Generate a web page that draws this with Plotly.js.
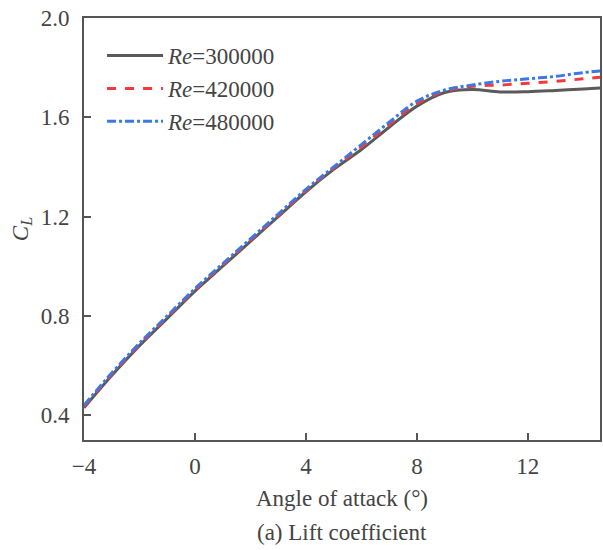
<!DOCTYPE html>
<html>
<head>
<meta charset="utf-8">
<script src="https://cdn.plot.ly/plotly-3.0.1.min.js"></script>
<style>html,body{margin:0;padding:0;background:#fff;}</style>
</head>
<body>
<div id="chart" style="width:603px;height:550px;"></div>
<script>
const alpha = [-4,-3,-2,-1,0,1,2,3,4,5,6,7,8,9,10,11,12,13,14,15];
const cl300 = [0.43,0.56,0.68,0.79,0.90,1.00,1.10,1.20,1.30,1.39,1.47,1.56,1.645,1.70,1.712,1.702,1.703,1.708,1.714,1.72];
const cl420 = [0.435,0.565,0.685,0.795,0.905,1.005,1.105,1.205,1.305,1.395,1.48,1.57,1.655,1.705,1.725,1.73,1.737,1.745,1.755,1.765];
const cl480 = [0.44,0.57,0.69,0.80,0.91,1.01,1.11,1.21,1.31,1.40,1.49,1.58,1.665,1.71,1.73,1.745,1.755,1.765,1.78,1.79];
const seriesNames = ['<i>Re</i>=300000','<i>Re</i>=420000','<i>Re</i>=480000'];
const xTicks = [-4,0,4,8,12];
const xTickText = ['\u22124','0','4','8','12'];
const yTicks = [0.4,0.8,1.2,1.6,2.0];
const yTickText = ['0.4','0.8','1.2','1.6','2.0'];

const serif = 'Liberation Serif, Times New Roman, serif';
const fs = 23;
const txt = '#444';
const traces = [
  {x: alpha, y: cl300, name: seriesNames[0], mode: 'lines', line: {color: '#5a5a5a', width: 3, shape: 'spline'}},
  {x: alpha, y: cl420, name: seriesNames[1], mode: 'lines', line: {color: '#f23a3a', width: 3, dash: 'dash', shape: 'spline'}},
  {x: alpha, y: cl480, name: seriesNames[2], mode: 'lines', line: {color: '#3a78e8', width: 3, dash: 'dashdot', shape: 'spline'}}
];
const layout = {
  width: 603, height: 550,
  margin: {l: 84, r: 3, t: 18, b: 110},
  paper_bgcolor: '#fff', plot_bgcolor: '#fff',
  font: {family: serif, size: fs, color: txt},
  showlegend: true,
  legend: {x: 0.035, y: 0.962, xanchor: 'left', yanchor: 'top', bgcolor: 'rgba(0,0,0,0)',
           font: {family: serif, size: fs, color: txt}, tracegroupgap: 0, itemwidth: 56},
  xaxis: {range: [-4, 14.6], tickvals: xTicks, ticktext: xTickText, ticks: 'inside', ticklen: 7,
          tickwidth: 2, tickcolor: '#555', showline: true, linecolor: '#555', linewidth: 2, mirror: true,
          showgrid: false, zeroline: false, tickfont: {family: serif, size: fs, color: txt},
          ticklabelstandoff: 4,
          title: {text: 'Angle of attack (°)', font: {family: serif, size: fs, color: txt}, standoff: 12}},
  yaxis: {range: [0.3, 2.0], tickvals: yTicks, ticktext: yTickText, ticks: 'inside', ticklen: 7,
          tickwidth: 2, tickcolor: '#555', showline: true, linecolor: '#555', linewidth: 2, mirror: true,
          showgrid: false, zeroline: false, tickfont: {family: serif, size: fs, color: txt},
          ticklabelstandoff: 8,
          title: {text: '<i>C</i><sub><i>L</i></sub>', font: {family: serif, size: fs, color: txt}, standoff: 6}},
  annotations: [{text: '(a) Lift coefficient', xref: 'paper', yref: 'paper', x: 0.5, y: -0.22,
                 xanchor: 'center', yanchor: 'middle', showarrow: false,
                 font: {family: serif, size: fs, color: txt}}]
};
Plotly.newPlot('chart', traces, layout, {displayModeBar: false, staticPlot: true});
</script>
</body>
</html>
